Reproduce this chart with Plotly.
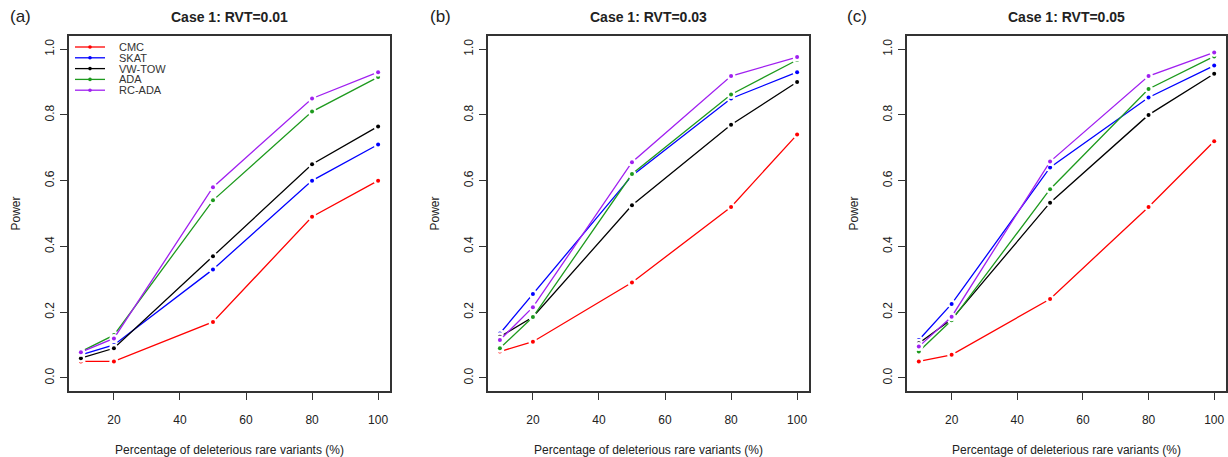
import plotly.graph_objects as go

pct = [10, 20, 50, 80, 100]
methods = ["CMC", "SKAT", "VW-TOW", "ADA", "RC-ADA"]
colors = ["#FF0000", "#0000FF", "#000000", "#1E9A1E", "#A020F0"]

# Case 1, RVT=0.01
a_cmc = [0.05, 0.05, 0.17, 0.49, 0.60]
a_skat = [0.07, 0.10, 0.33, 0.60, 0.71]
a_vw = [0.06, 0.09, 0.37, 0.65, 0.765]
a_ada = [0.08, 0.13, 0.54, 0.81, 0.915]
a_rc = [0.078, 0.12, 0.58, 0.85, 0.93]

# Case 1, RVT=0.03
b_cmc = [0.08, 0.11, 0.29, 0.52, 0.74]
b_skat = [0.135, 0.255, 0.615, 0.85, 0.93]
b_vw = [0.125, 0.185, 0.525, 0.77, 0.90]
b_ada = [0.09, 0.185, 0.62, 0.862, 0.967]
b_rc = [0.115, 0.215, 0.656, 0.918, 0.976]

# Case 1, RVT=0.05
c_cmc = [0.05, 0.07, 0.24, 0.52, 0.72]
c_skat = [0.115, 0.225, 0.64, 0.853, 0.95]
c_vw = [0.105, 0.178, 0.533, 0.80, 0.925]
c_ada = [0.08, 0.175, 0.574, 0.879, 0.978]
c_rc = [0.095, 0.186, 0.658, 0.918, 0.99]

panels = [
    ("(a)", "Case 1: RVT=0.01", [a_cmc, a_skat, a_vw, a_ada, a_rc]),
    ("(b)", "Case 1: RVT=0.03", [b_cmc, b_skat, b_vw, b_ada, b_rc]),
    ("(c)", "Case 1: RVT=0.05", [c_cmc, c_skat, c_vw, c_ada, c_rc]),
]

x_ticks = [20, 40, 60, 80, 100]
y_ticks = [0.0, 0.2, 0.4, 0.6, 0.8, 1.0]
y_ticktext = ["0.0", "0.2", "0.4", "0.6", "0.8", "1.0"]

W, H = 1228, 457
boxes_px = [(69, 390), (488, 809), (907, 1226)]
top_px, bot_px = 36, 391

FONT = "Liberation Sans, Arial, sans-serif"
fig = go.Figure()
annotations = []
shapes = []

for i, (lab, title, series) in enumerate(panels):
    n = "" if i == 0 else str(i + 1)
    xa, ya = "x" + n, "y" + n
    for s, (name, col) in enumerate(zip(methods, colors)):
        vals = series[s]
        fig.add_trace(go.Scatter(x=pct, y=vals, mode="lines", name=name,
                                 line=dict(color=col, width=1.3),
                                 xaxis=xa, yaxis=ya, showlegend=False,
                                 hoverinfo="skip"))
        fig.add_trace(go.Scatter(x=pct, y=vals, mode="markers", name=name,
                                 marker=dict(color="white", size=9, line=dict(width=0)),
                                 xaxis=xa, yaxis=ya, showlegend=False,
                                 hoverinfo="skip"))
        fig.add_trace(go.Scatter(x=pct, y=vals, mode="markers", name=name,
                                 marker=dict(color=col, size=4, line=dict(width=0)),
                                 xaxis=xa, yaxis=ya, showlegend=False))
    x0, x1 = boxes_px[i]
    dom_x = [x0 / W, x1 / W]
    dom_y = [1 - bot_px / H, 1 - top_px / H]
    axis_common = dict(showgrid=False, zeroline=False, showline=True, mirror=True,
                       linecolor="#333333", linewidth=1.5, ticks="outside",
                       ticklen=7, tickwidth=1.2, tickcolor="#333333", automargin=False,
                       tickfont=dict(family=FONT, size=12, color="#222222"))
    fig.update_layout(**{
        "xaxis" + n: dict(domain=dom_x, anchor=ya, range=[6.4, 103.6],
                          tickvals=x_ticks, ticklabelstandoff=10,
                          title=dict(text="Percentage of deleterious rare variants (%)",
                                     font=dict(family=FONT, size=12, color="#222222"),
                                     standoff=19),
                          **axis_common),
        "yaxis" + n: dict(domain=dom_y, anchor=xa, range=[-0.04, 1.04],
                          tickvals=y_ticks, ticktext=y_ticktext, tickangle=-90,
                          ticklabelstandoff=1,
                          title=dict(text="Power",
                                     font=dict(family=FONT, size=12, color="#222222"),
                                     standoff=20),
                          **axis_common),
    })
    annotations.append(dict(text="<b>" + title + "</b>", x=(x0 + x1) / 2 / W, y=1 - 17 / H,
                            xref="paper", yref="paper", xanchor="center", yanchor="middle",
                            showarrow=False, font=dict(family=FONT, size=14, color="#222222")))
    lab_x = [8, 428, 845][i]
    annotations.append(dict(text=lab, x=lab_x / W, y=1 - 17 / H, xref="paper", yref="paper",
                            xanchor="left", yanchor="middle", showarrow=False,
                            font=dict(family=FONT, size=17, color="#222222")))

# legend inside panel (a)
box_w = boxes_px[0][1] - boxes_px[0][0]
box_h = bot_px - top_px
for k, (name, col) in enumerate(zip(methods, colors)):
    ypx = 47 + k * 10.8
    yd = 1 - (ypx - top_px) / box_h
    shapes.append(dict(type="line", xref="x domain", yref="y domain",
                       x0=(75 - 69) / box_w, x1=(105 - 69) / box_w, y0=yd, y1=yd,
                       line=dict(color=col, width=1.3)))
    shapes.append(dict(type="circle", xref="x domain", yref="y domain",
                       xsizemode="pixel", ysizemode="pixel",
                       xanchor=(90 - 69) / box_w, yanchor=yd,
                       x0=-1.8, x1=1.8, y0=-1.8, y1=1.8,
                       fillcolor=col, line=dict(width=0)))
    annotations.append(dict(text=name, x=(117 - 69) / box_w, y=yd,
                            xref="x domain", yref="y domain", xanchor="left",
                            yanchor="middle", showarrow=False,
                            font=dict(family=FONT, size=11, color="#333333")))

fig.update_layout(width=W, height=H, margin=dict(l=0, r=0, t=0, b=0),
                  paper_bgcolor="white", plot_bgcolor="white",
                  annotations=annotations, shapes=shapes)

fig.write_html("out.html", config={"displayModeBar": False},
               post_script="document.body.style.margin='0';document.body.style.overflow='hidden';")
